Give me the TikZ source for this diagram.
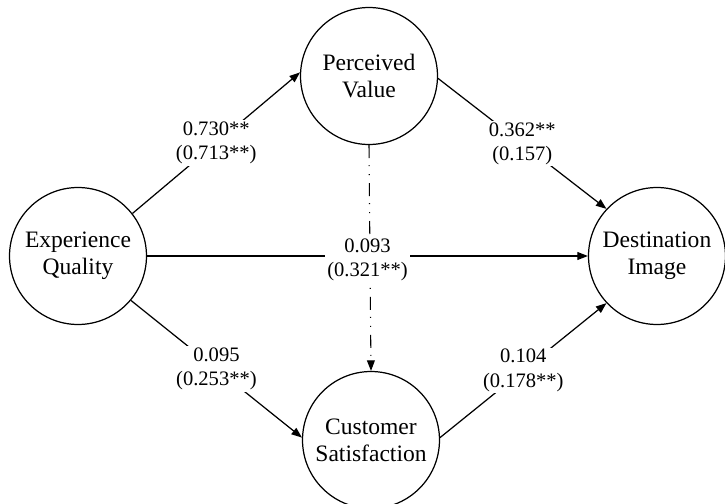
\documentclass[tikz,border=0pt]{standalone}
\usepackage{fontspec}
\setmainfont{Liberation Serif}
\usetikzlibrary{arrows.meta}
\begin{document}
\begin{tikzpicture}[x=0.02cm,y=-0.02cm,line width=0.7pt,
  latent/.style={circle,draw,minimum size=2.74cm,inner sep=0pt,align=center,font=\fontsize{13.4pt}{15.4pt}\selectfont},
  coef/.style={fill=white,inner sep=1pt,align=center,font=\fontsize{11.7pt}{13.7pt}\selectfont},
  effect/.style={-{Triangle[length=6pt,width=4.5pt]}}]
\useasboundingbox (0,0) rectangle (725,504);
\node[latent](EQ) at (78,256) {Experience\\Quality};
\node[latent](PV) at (369,76) {Perceived\\Value};
\node[latent](CS) at (371,440) {Customer\\Satisfaction};
\node[latent](DI) at (657,256) {Destination\\Image};

\draw[effect,line width=0.6pt,dash pattern=on 7.4pt off 4pt on 0.6pt off 4.5pt on 0.6pt off 4.5pt] (PV.south) -- (CS.north);
\draw[effect] (EQ.38) -- (PV.177) node[coef,midway] {0.730**\\(0.713**)};
\draw[effect] (PV.-2) -- (DI.137) node[coef,midway] {0.362**\\(0.157)};
\draw[effect] (EQ.east) -- (DI.west) node[coef,midway,yshift=-2pt] {0.093\\(0.321**)};
\draw[effect] (EQ.-40) -- (CS.178) node[coef,midway] {0.095\\(0.253**)};
\draw[effect] (CS.2) -- (DI.223) node[coef,midway] {0.104\\(0.178**)};
\end{tikzpicture}
\end{document}
